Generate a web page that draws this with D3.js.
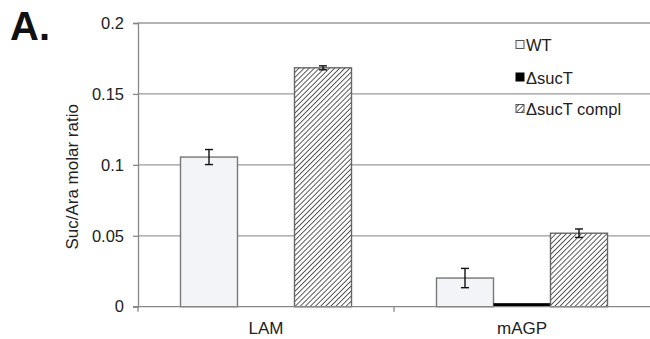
<!DOCTYPE html>
<html>
<head>
<meta charset="utf-8">
<script src="https://cdn.jsdelivr.net/npm/d3@7"></script>
<style>
  body { margin: 0; background: #fff; }
  svg { display: block; font-family: Arial, "Liberation Sans", sans-serif; }
</style>
</head>
<body>
<svg width="650" height="339"></svg>
<script>
const categories = ['LAM', 'mAGP'];
const seriesNames = ['WT', '\u0394sucT', '\u0394sucT compl'];
const wtValues = [0.1055, 0.0202];
const wtErrors = [0.0053, 0.0068];
const sucTValues = [0.0003, 0.0025];
const sucTErrors = [0, 0];
const complValues = [0.1684, 0.0518];
const complErrors = [0.0014, 0.0030];
const yTicks = [0, 0.05, 0.1, 0.15, 0.2];

const margin = { left: 138, right: 0, top: 23, bottom: 32.3 };
const width = 650, height = 339;

const svg = d3.select('svg');

// hatch pattern for the complemented strain
const defs = svg.append('defs');
const pat = defs.append('pattern')
  .attr('id', 'hatch')
  .attr('patternUnits', 'userSpaceOnUse')
  .attr('width', 3.6)
  .attr('height', 3.6)
  .attr('patternTransform', 'rotate(45)');
pat.append('rect').attr('width', 3.6).attr('height', 3.6).attr('fill', '#fff');
pat.append('line')
  .attr('x1', 0).attr('y1', 0).attr('x2', 0).attr('y2', 3.6)
  .attr('stroke', '#333').attr('stroke-width', 1.6);

const fills = ['#f2f4f7', '#000', 'url(#hatch)'];
const strokes = ['#777', '#000', '#666'];

const yScale = d3.scaleLinear().domain([0, 0.2]).range([height - margin.bottom, margin.top]);
const xScale = d3.scaleBand().domain(categories).range([margin.left, width - margin.right]);
const xInner = d3.scaleBand().domain(seriesNames)
  .range([0, xScale.bandwidth()]).paddingOuter(0.5 * 85 / 57).paddingInner(0);

// gridlines
svg.append('g')
  .selectAll('line')
  .data(yTicks.slice(1))
  .enter()
  .append('line')
    .attr('x1', margin.left)
    .attr('x2', width)
    .attr('y1', (d) => yScale(d))
    .attr('y2', (d) => yScale(d))
    .attr('stroke', '#9a9a9a')
    .attr('stroke-width', 1.3);

// y axis
const yAxis = d3.axisLeft(yScale).tickValues(yTicks).tickFormat((d) => d3.format('')(+d.toFixed(2))).tickSize(5).tickPadding(9);
const gy = svg.append('g')
  .attr('transform', `translate(${margin.left}, 0)`)
  .call(yAxis);
gy.select('.domain').attr('stroke', '#888').attr('stroke-width', 1.3);
gy.selectAll('.tick line').attr('stroke', '#888').attr('stroke-width', 1.3);
gy.selectAll('.tick text')
  .style('font-size', '16.5px')
  .attr('fill', '#222');

svg.append('text')
  .text('Suc/Ara molar ratio')
  .style('font-size', '17px')
  .attr('fill', '#222')
  .attr('text-anchor', 'middle')
  .attr('transform', `translate(78, ${yScale(0.1) + 12}) rotate(-90)`);

// bars
const series = [
  { name: seriesNames[0], values: wtValues, errors: wtErrors },
  { name: seriesNames[1], values: sucTValues, errors: sucTErrors },
  { name: seriesNames[2], values: complValues, errors: complErrors },
];

series.forEach((s, si) => {
  const g = svg.append('g');
  g.selectAll('rect')
    .data(categories)
    .enter()
    .append('rect')
      .attr('x', (c) => xScale(c) + xInner(s.name))
      .attr('width', xInner.bandwidth())
      .attr('y', (c, i) => yScale(s.values[i]))
      .attr('height', (c, i) => yScale(0) - yScale(s.values[i]))
      .attr('fill', fills[si])
      .attr('stroke', strokes[si])
      .attr('stroke-width', si === 1 ? 0 : 1.4);

  const eb = g.selectAll('g.err')
    .data(categories.filter((c, i) => s.errors[i] > 0))
    .enter()
    .append('g');
  eb.each(function (c) {
    const i = categories.indexOf(c);
    const cx = xScale(c) + xInner(s.name) + xInner.bandwidth() / 2;
    const y1 = yScale(s.values[i] + s.errors[i]);
    const y2 = yScale(s.values[i] - s.errors[i]);
    const e = d3.select(this);
    e.append('line').attr('x1', cx).attr('x2', cx).attr('y1', y1).attr('y2', y2);
    e.append('line').attr('x1', cx - 4).attr('x2', cx + 4).attr('y1', y1).attr('y2', y1);
    e.append('line').attr('x1', cx - 4).attr('x2', cx + 4).attr('y1', y2).attr('y2', y2);
    e.selectAll('line').attr('stroke', '#111').attr('stroke-width', 1.4);
  });
});

// x axis
const xAxis = d3.axisBottom(xScale).tickSize(0).tickPadding(15);
const gx = svg.append('g')
  .attr('transform', `translate(0, ${yScale(0)})`)
  .call(xAxis);
gx.select('.domain').remove();
gx.append('line')
  .attr('x1', margin.left - 5).attr('x2', width)
  .attr('stroke', '#888').attr('stroke-width', 1.3);
gx.selectAll('.tick text')
  .style('font-size', '17px')
  .attr('fill', '#222');
gx.append('g')
  .selectAll('line')
  .data([margin.left, xScale(categories[1])])
  .enter()
  .append('line')
    .attr('x1', (d) => d).attr('x2', (d) => d)
    .attr('y1', 0).attr('y2', 5)
    .attr('stroke', '#888').attr('stroke-width', 1.3);

// legend
const legend = svg.append('g').attr('transform', 'translate(516, 0)');
const legendY = [45, 77.5, 109];
series.forEach((s, si) => {
  legend.append('rect')
    .attr('x', 0)
    .attr('y', legendY[si] - 4.5)
    .attr('width', 8)
    .attr('height', 8)
    .attr('fill', fills[si])
    .attr('stroke', si === 1 ? '#000' : '#555')
    .attr('stroke-width', 1);
  legend.append('text')
    .text(s.name)
    .attr('x', 10)
    .attr('y', legendY[si] + 6)
    .style('font-size', '16.5px')
    .attr('fill', '#222');
});

// panel letter
svg.append('text')
  .text('A.')
  .attr('x', 10)
  .attr('y', 40)
  .style('font-size', '40px')
  .style('font-weight', 'bold')
  .attr('fill', '#111');
</script>
</body>
</html>
